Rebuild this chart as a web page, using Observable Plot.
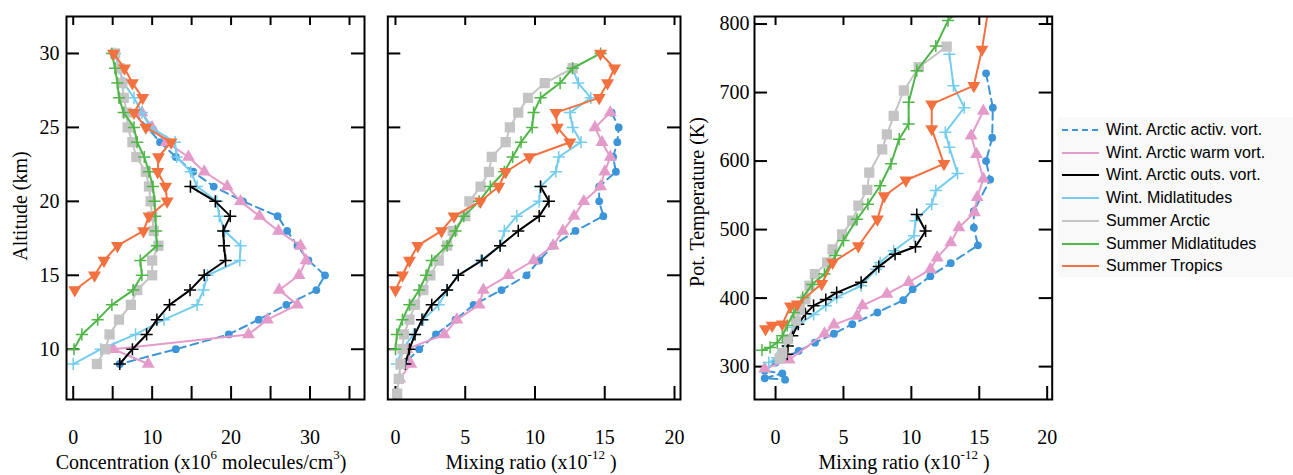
<!DOCTYPE html>
<html>
<head>
<meta charset="utf-8">
<script src="https://cdn.jsdelivr.net/npm/d3@7"></script>
<script src="https://cdn.jsdelivr.net/npm/@observablehq/plot@0.6"></script>
<style>
  html, body { margin: 0; padding: 0; background: #fff; overflow: hidden; }
  #root { position: relative; width: 1293px; height: 475px; background: #fff; }
  .panel { position: absolute; top: 0; }
  .title { position: absolute; font-family: "Liberation Serif", "Times New Roman", serif; font-size: 20px; color: #000; white-space: nowrap; line-height: 1; }
  .title sup { font-size: 13px; vertical-align: 0; position: relative; top: -10px; }
  #legend { position: absolute; left: 1058px; top: 117px; width: 235px; height: 160px; background: #f9f9f9;
            font-family: "Liberation Sans", Arial, sans-serif; font-size: 16px; color: #000; }
  .lrow { position: absolute; left: 0; height: 20px; white-space: nowrap; }
  .lrow svg { position: absolute; left: 4px; top: 4px; }
  .lrow span { position: absolute; left: 48px; top: 1px; line-height: 18px; }
</style>
</head>
<body>
<div id="root">
  <div id="p1" class="panel" style="left:0px"></div>
  <div id="p2" class="panel" style="left:370px"></div>
  <div id="p3" class="panel" style="left:690px"></div>
  <div class="title" style="left:20px; top:206px; transform: translate(-50%,-50%) rotate(-90deg);">Altitude (km)</div>
  <div class="title" style="left:697px; top:202px; transform: translate(-50%,-50%) rotate(-90deg);">Pot. Temperature (K)</div>
  <div class="title" style="left:201px; top:452px; transform: translateX(-50%);">Concentration (x10<sup>6</sup> molecules/cm<sup>3</sup>)</div>
  <div class="title" style="left:531px; top:452px; transform: translateX(-50%);">Mixing ratio (x10<sup>-12</sup> )</div>
  <div class="title" style="left:904px; top:452px; transform: translateX(-50%);">Mixing ratio (x10<sup>-12</sup> )</div>
  <div id="legend"></div>
</div>
<script>
// ---------- series metadata ----------
const seriesNames = ["Wint. Arctic activ. vort.", "Wint. Arctic warm vort.", "Wint. Arctic outs. vort.",
  "Wint. Midlatitudes", "Summer Arctic", "Summer Midlatitudes", "Summer Tropics"];
const seriesColors = ["#3b95d8", "#e59bca", "#000000", "#74cdef", "#c4c4c4", "#4fb747", "#f3703f"];
const seriesSymbols = ["circle", "triangle", "plus", "plus", "square", "plus", "triangle-down"];
const drawOrder = [0, 1, 3, 2, 4, 5, 6];

// ---------- panels 1 & 2: common altitude levels (km) ----------
const altitudeKm = [30, 29, 28, 27, 26, 25, 24, 23, 22, 21, 20, 19, 18, 17, 16, 15, 14, 13, 12, 11, 10, 9, 8, 7];

// Panel 1: concentration (x10^6 molecules/cm3)
const activConc = [null, null, null, null, 7.7, 9.4, 11.0, 13.0, 15.2, 17.8, 21.5, 25.9, 27.1, 28.4, 29.8, 31.9, 30.8, 27.0, 23.5, 19.7, 13.0, 5.9, null, null];
const warmConc  = [null, null, null, null, 8.7, 10.0, 11.8, 14.6, 16.6, 19.5, 21.2, 23.6, 26.0, 28.8, 29.5, 28.6, 26.1, 28.4, 24.6, 22.2, 5.1, 9.5, null, null];
const outsConc  = [null, null, null, null, null, null, null, null, null, 14.85, 18.0, 19.9, 19.0, 19.1, 19.3, 16.6, 14.8, 12.2, 10.6, 9.3, 7.5, 5.9, null, null];
const midWConc  = [5.3, 5.8, 6.4, 7.7, 8.7, 9.8, 12.9, 13.1, 14.9, 15.7, 18.2, 18.5, 19.2, 21.2, 21.1, 17.0, 16.5, 15.7, 11.5, 7.9, 3.5, 0.0, null, null];
const arcSConc  = [5.3, 5.9, 6.2, 6.4, 6.8, 6.9, 7.5, 8.0, 9.2, 9.6, 9.8, 10.0, 10.2, 10.8, 10.0, 10.0, 8.1, 7.3, 5.8, 4.6, 4.1, 3.0, null, null];
const midSConc  = [4.9, 5.3, 5.6, 5.8, 6.4, 7.7, 8.1, 9.0, 9.6, 10.1, 10.3, 10.4, 10.5, 10.6, 8.5, 8.7, 7.6, 4.9, 3.1, 1.1, 0.1, null, null, null];
const tropConc  = [5.1, 6.5, 7.5, 8.8, 7.7, 9.2, 12.4, 10.8, 10.7, 11.7, 11.9, 9.6, 8.9, 5.6, 3.9, 2.7, 0.2, null, null, null, null, null, null, null];

// Panel 2: mixing ratio (x10^-12) vs altitude
const activMix = [null, null, null, null, 15.5, 16.0, 15.9, 15.6, 15.8, 14.6, 14.6, 14.9, 12.9, 11.3, 10.3, 9.4, 7.6, 5.6, 4.3, 2.9, 1.7, 0.6, null, null];
const warmMix  = [null, null, null, null, 15.4, 14.3, 14.8, 15.4, 15.0, 14.7, 13.5, 12.8, 12.0, 11.3, 9.9, 8.1, 6.3, 6.0, 4.4, 3.5, 0.8, 1.1, 0.3, null];
const outsMix  = [null, null, null, null, null, null, null, null, null, 10.4, 11.0, 10.3, 8.8, 7.5, 6.2, 4.5, 3.7, 2.6, 1.9, 1.4, 1.0, 0.7, null, null];
const midWMix  = [null, 12.7, 13.1, 14.0, 12.5, 12.7, 13.3, 11.7, 11.5, 10.4, 10.3, 8.7, 7.8, 7.5, 6.1, 4.5, 3.7, 3.1, 2.0, 1.3, 0.5, 0.1, null, null];
const arcSMix  = [null, 12.7, 10.7, 9.5, 8.8, 8.2, 7.9, 6.9, 6.7, 6.1, 5.3, 5.0, 4.1, 3.7, 3.1, 2.5, 2.0, 1.4, 1.0, 0.6, 0.5, 0.36, 0.24, 0.12];
const midSMix  = [14.7, 12.7, 11.8, 10.4, 9.9, 9.8, 9.0, 8.4, 7.8, 6.8, 6.0, 4.9, 4.3, 3.7, 2.6, 2.2, 1.7, 1.0, 0.5, 0.1, 0.0, null, null, null];
const tropMix  = [14.7, 15.7, 15.2, 14.6, 11.5, 11.6, 12.5, 9.6, 7.9, 7.4, 6.1, 4.2, 3.3, 1.6, 1.0, 0.5, 0.0, null, null, null, null, null, null, null];

// Panel 3: mixing ratio (x10^-12) vs potential temperature (K)
const activMix3   = [15.5, 16.0, 15.95, 15.5, 15.8, 14.6, 14.6, 14.9, 12.9, 11.4, 10.1, 9.4, 7.5, 5.65, 4.3, 2.9, 1.7, 0.0, -0.8, 0.5, -0.8, 0.7];
const activTheta  = [728, 678, 634, 600, 573, 527, 503, 477, 451, 432, 413, 397, 379, 362, 348, 335, 323, 306, 294, 290, 283, 281];
const warmMix3    = [15.3, 14.4, 14.8, 15.3, 14.85, 14.65, 13.5, 12.9, 11.9, 11.4, 9.8, 8.2, 6.4, 6.0, 4.3, 3.6, 1.0, -0.8];
const warmTheta   = [673, 637, 610, 574, 547, 525, 503, 481, 459, 442, 423, 406, 389, 374, 361, 348, 310, 297];
const outsMix3    = [10.4, 11.05, 10.3, 8.8, 7.6, 6.3, 4.5, 3.7, 2.8, 2.2, 1.67, 1.23, 0.9, 0.86];
const outsTheta   = [522, 498, 475, 464, 446, 423, 408, 398, 389, 377, 362, 345, 330, 318];
const midWMix3    = [12.8, 13.1, 13.9, 12.5, 12.8, 13.4, 11.8, 11.5, 10.3, 10.2, 8.7, 7.7, 7.4, 6.3, 4.5, 3.7, 2.8, 1.35, 0.86, 0.12, -0.5];
const midWTheta   = [756, 710, 678, 642, 620, 582, 557, 537, 513, 491, 469, 452, 442, 418, 401, 389, 376, 357, 338, 313, 306];
const arcSMix3    = [12.6, 10.55, 9.45, 8.7, 8.2, 7.85, 6.9, 6.75, 6.1, 5.65, 4.9, 4.2, 3.8, 2.9, 2.5, 2.2, 1.8, 1.5, 0.9, 0.5, 0.3];
const arcSTheta   = [767, 737, 703, 666, 639, 617, 583, 558, 535, 513, 493, 471, 452, 435, 418, 398, 383, 367, 340, 320, 312];
const midSMix3    = [14.7, 12.7, 11.8, 10.4, 9.8, 9.8, 9.1, 8.5, 7.7, 6.8, 6.0, 5.0, 4.4, 3.6, 2.7, 2.0, 1.35, 0.86, 0.5, 0.12, -0.4, -1.0];
const midSTheta   = [845, 805, 768, 732, 686, 654, 632, 596, 564, 537, 515, 484, 462, 435, 420, 401, 379, 360, 345, 335, 328, 324];
const tropMix3    = [15.7, 15.2, 14.6, 11.5, 11.5, 12.4, 9.6, 8.0, 7.5, 6.1, 4.2, 3.4, 1.6, 1.1, 0.5, -0.25, -0.74];
const tropTheta   = [825, 763, 710, 683, 647, 596, 572, 549, 515, 476, 452, 421, 391, 388, 362, 360, 355];

// ---------- tick values ----------
const concTicks = [0, 5, 10, 15, 20, 25, 30, 35];
const concLabels = [0, 10, 20, 30];
const mixTicks = [0, 5, 10, 15, 20];
const altTicks = [10, 15, 20, 25, 30];
const thetaTicks = [300, 400, 500, 600, 700, 800];

// ---------- helpers ----------
function rows(xs, ys) {
  return xs.map((x, j) => ({x, y: ys[j]})).filter(d => d.x != null && d.y != null);
}

function seriesMarks(data, i) {
  const c = seriesColors[i];
  const lineOpts = {x: "x", y: "y", stroke: c, strokeWidth: 2, clip: true};
  if (i === 0) lineOpts.strokeDasharray = "8,5";
  const marks = [Plot.line(data, lineOpts)];
  const sym = seriesSymbols[i];
  if (sym === "plus") {
    marks.push(Plot.dot(data, {x: "x", y: "y", symbol: "plus", stroke: c, strokeWidth: 1.5, r: 4, clip: true}));
  } else if (sym === "triangle-down") {
    marks.push(Plot.dot(data, {x: "x", y: "y", symbol: "triangle", fill: c, r: 4.8, rotate: 180, clip: true}));
  } else if (sym === "circle") {
    marks.push(Plot.dot(data, {x: "x", y: "y", symbol: "circle", fill: c, r: 3.9, clip: true}));
  } else if (sym === "square") {
    marks.push(Plot.dot(data, {x: "x", y: "y", symbol: "square", fill: c, r: 5.8, clip: true}));
  } else {
    marks.push(Plot.dot(data, {x: "x", y: "y", symbol: sym, fill: c, r: 4.8, clip: true}));
  }
  return marks;
}

function makePanel({width, marginLeft, marginRight, xDomain, yDomain, xTicks, xLabels, yTicks, yLabels, yPad, series}) {
  const marginTop = 16, marginBottom = 76, height = 475;
  const fw = width - marginLeft - marginRight;
  const fh = height - marginTop - marginBottom;
  const marks = [
    Plot.tickX(xTicks, {x: d => d, insetTop: fh - 13, strokeWidth: 2}),
    Plot.tickX(xTicks, {x: d => d, insetBottom: fh - 9, strokeWidth: 2}),
    Plot.tickY(yTicks, {y: d => d, insetRight: fw - 13, strokeWidth: 2}),
    Plot.tickY(yTicks, {y: d => d, insetLeft: fw - 13, strokeWidth: 2}),
    Plot.axisX({ticks: xLabels, anchor: "bottom", tickSize: 0, tickPadding: 30, label: null, fontSize: 20})
  ];
  if (yLabels) marks.push(Plot.axisY({ticks: yLabels, anchor: "left", tickSize: 0, tickPadding: yPad, label: null, fontSize: 20}));
  drawOrder.forEach(i => marks.push(...seriesMarks(series[i], i)));
  marks.push(Plot.frame({strokeWidth: 2}));
  return Plot.plot({
    width, height, marginLeft, marginRight, marginTop, marginBottom,
    x: {domain: xDomain},
    y: {domain: yDomain, axis: yLabels ? undefined : null},
    style: {fontFamily: "'Liberation Serif', 'Times New Roman', serif", fontSize: "20px", background: "transparent", color: "#000", overflow: "visible"},
    marks
  });
}

const concs = [activConc, warmConc, outsConc, midWConc, arcSConc, midSConc, tropConc];
const mixes = [activMix, warmMix, outsMix, midWMix, arcSMix, midSMix, tropMix];
const mix3s = [activMix3, warmMix3, outsMix3, midWMix3, arcSMix3, midSMix3, tropMix3];
const thetas = [activTheta, warmTheta, outsTheta, midWTheta, arcSTheta, midSTheta, tropTheta];

document.getElementById("p1").appendChild(makePanel({
  width: 370, marginLeft: 66, marginRight: 6,
  xDomain: [-0.85, 36.9], yDomain: [6.6, 32.5],
  xTicks: concTicks, xLabels: concLabels, yTicks: altTicks, yLabels: altTicks, yPad: 7,
  series: concs.map(c => rows(c, altitudeKm))
}));

document.getElementById("p2").appendChild(makePanel({
  width: 320, marginLeft: 17.3, marginRight: 10,
  xDomain: [-0.55, 20.43], yDomain: [6.6, 32.5],
  xTicks: mixTicks, xLabels: mixTicks, yTicks: altTicks, yLabels: null, yPad: 7,
  series: mixes.map(m => rows(m, altitudeKm))
}));

document.getElementById("p3").appendChild(makePanel({
  width: 370, marginLeft: 64, marginRight: 8.3,
  xDomain: [-1.55, 20.37], yDomain: [252, 811],
  xTicks: mixTicks, xLabels: mixTicks, yTicks: thetaTicks, yLabels: thetaTicks, yPad: 5,
  series: mix3s.map((m, i) => rows(m, thetas[i]))
}));

// ---------- legend ----------
const legend = document.getElementById("legend");
seriesNames.forEach((name, i) => {
  const row = document.createElement("div");
  row.className = "lrow";
  row.style.top = (13 + 22.7 * i - 10) + "px";
  const dash = i === 0 ? ' stroke-dasharray="6,4"' : '';
  row.innerHTML = `<svg width="38" height="12"><line x1="0" y1="6" x2="37" y2="6" stroke="${seriesColors[i]}" stroke-width="2"${dash}/></svg><span>${name}</span>`;
  legend.appendChild(row);
});
</script>
</body>
</html>
